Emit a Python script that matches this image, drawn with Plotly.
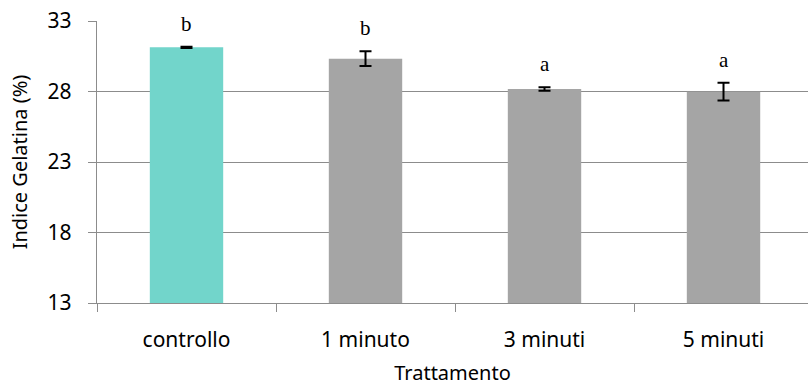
import plotly.graph_objects as go

# Indice Gelatina per trattamento (media ± errore)
categories = ["controllo", "1 minuto", "3 minuti", "5 minuti"]
values = [31.13, 30.33, 28.18, 27.99]
errors = [0.05, 0.53, 0.12, 0.63]
letters = ["b", "b", "a", "a"]
bar_colors = ["#72D5CB", "#A5A5A5", "#A5A5A5", "#A5A5A5"]
y_ticks = [13, 18, 23, 28, 33]

grid_color = "#8C8C8C"
font_family = "Noto Sans"
label_size = 21

fig = go.Figure()
fig.add_trace(go.Bar(
    x=categories,
    y=values,
    marker=dict(color=bar_colors, line=dict(width=0)),
    width=0.41,
    error_y=dict(type="data", array=errors, visible=True,
                 color="black", thickness=2, width=6),
    showlegend=False,
))

# Significance letters above each bar
for cat, v, e, lt in zip(categories, values, errors, letters):
    fig.add_annotation(
        x=cat, y=v + e, text=lt, showarrow=False,
        yanchor="bottom", yshift=9,
        font=dict(family="Liberation Serif", size=21, color="black"),
    )

fig.update_layout(
    width=808, height=386,
    margin=dict(l=97, r=0, t=21, b=83),
    paper_bgcolor="white", plot_bgcolor="white",
    font=dict(family=font_family, size=label_size, color="black"),
)

fig.update_xaxes(
    type="category",
    range=[-0.5, 3.472],
    tickson="boundaries",
    ticks="outside", ticklen=8, tickcolor=grid_color, tickwidth=1.3,
    showline=True, linecolor=grid_color, linewidth=1.3,
    showgrid=False,
    automargin=False,
    ticklabelstandoff=18,
    tickfont=dict(family=font_family, size=label_size),
    title=dict(text="Trattamento", font=dict(family=font_family, size=label_size - 1), standoff=14),
)
fig.update_yaxes(
    range=[13, 33],
    tickvals=y_ticks,
    ticks="outside", ticklen=8, tickcolor=grid_color, tickwidth=1.3,
    showline=True, linecolor=grid_color, linewidth=1.3,
    showgrid=True, gridcolor=grid_color, gridwidth=1.3,
    zeroline=False,
    automargin=False,
    ticklabelstandoff=12,
    tickfont=dict(family=font_family, size=label_size),
    title=dict(text="Indice Gelatina (%)", font=dict(family=font_family, size=label_size - 1), standoff=14),
)

fig.write_html("out.html")
